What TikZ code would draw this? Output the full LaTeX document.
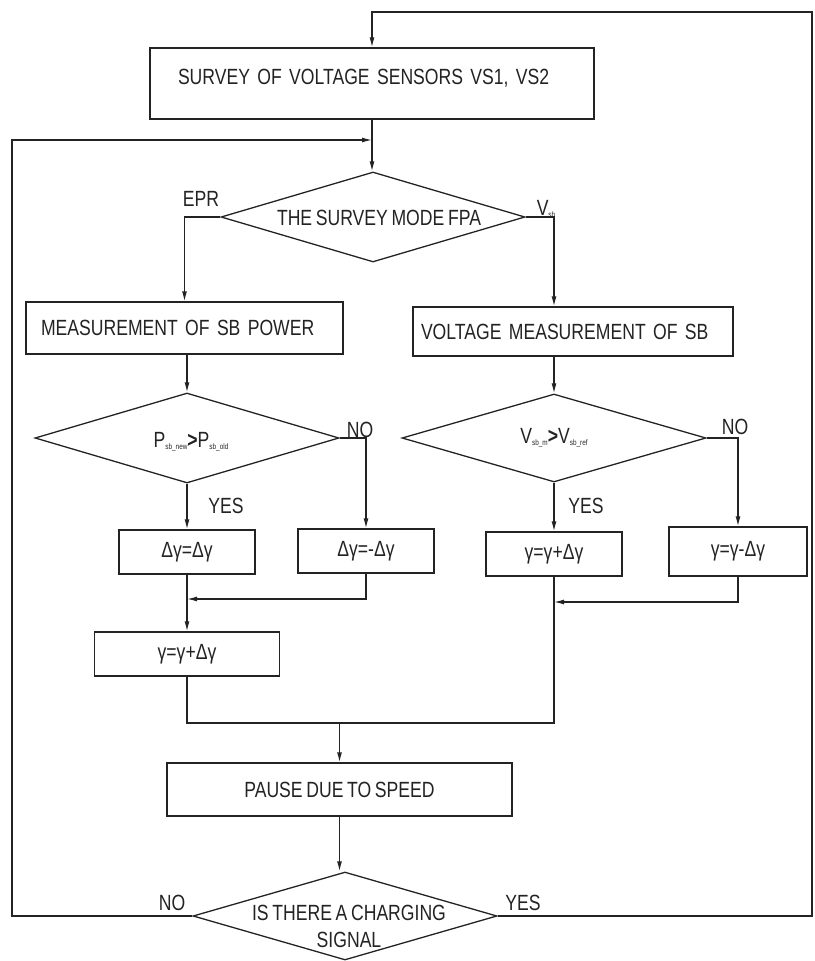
\documentclass[tikz,border=0pt]{standalone}
\usepackage{fontspec}
\setmainfont{Liberation Sans}[FakeStretch=0.8,WordSpace=0.75]
\usetikzlibrary{shapes.geometric,arrows.meta}
\definecolor{ink}{RGB}{35,35,35}
\newcommand{\tsub}[1]{\raisebox{-2.5pt}{\fontsize{8}{8}\selectfont #1}}
\begin{document}
\begin{tikzpicture}[x=1pt,y=-1pt,line width=1.3pt,color=ink,
  every node/.style={font=\fontsize{22}{27}\selectfont},
  box/.style={draw,rectangle,inner sep=0pt,align=center},
  lbox/.style={draw,rectangle,inner ysep=0pt,align=left},
  dia/.style={draw,diamond,inner sep=0pt,minimum width=304pt,minimum height=90pt},
  txt/.style={inner sep=0pt,anchor=base},
  arr/.style={-{Latex[length=10pt,width=5pt]}}]
\useasboundingbox (0,0) rectangle (814,961);

% boxes
\node[lbox,inner xsep=28pt,text width=388pt,minimum height=71pt,text height=15.7pt,text depth=14.7pt] (b1) at (372,83.5) {SURVEY OF VOLTAGE SENSORS VS1, VS2};
\node[lbox,inner xsep=15pt,text width=287pt,minimum height=52pt] (b2) at (184.5,328) {MEASUREMENT OF SB POWER};
\node[lbox,inner xsep=8pt,text width=304pt,minimum height=49pt] (b3) at (573,331.5) {VOLTAGE MEASUREMENT OF SB};
\node[box,minimum width=136pt,minimum height=44pt] (b4) at (187,552) {Δγ=Δγ};
\node[box,minimum width=136pt,minimum height=44pt] (b5) at (366,551) {Δγ=-Δγ};
\node[box,minimum width=185pt,minimum height=44pt] (b6) at (187,654) {γ=γ+Δγ};
\node[box,minimum width=136pt,minimum height=44pt] (b7) at (554,554) {γ=γ+Δγ};
\node[box,minimum width=138pt,minimum height=49pt] (b8) at (738,551.5) {γ=γ-Δγ};
\node[box,minimum width=345pt,minimum height=53pt] (b9) at (339.5,789.5) {PAUSE DUE TO SPEED};

% diamonds
\node[dia] (d1) at (373,217) {};
\node[txt] (d1t) at (379,225) {THE SURVEY MODE FPA};
\node[dia] (d2) at (187,438) {};
\node[txt] (d2t) at (191,447) {P\tsub{sb\_new}\textbf{>}P\tsub{sb\_old}};
\node[dia,minimum height=88pt] (d4) at (554,438) {};
\node[txt] (d4t) at (554,443) {V\tsub{sb\_m}\textbf{>}V\tsub{sb\_ref}};
\node[dia,minimum height=88pt] (d3) at (345,916) {};
\node[txt,align=center] (d3t) at (349,947) {IS THERE A CHARGING\\SIGNAL};

% labels
\node[txt] (lepr) at (201,206) {EPR};
\node[txt] (lvsb) at (546,215) {V\tsub{sb}};
\node[txt] (lno2) at (360,437) {NO};
\node[txt] (lyes2) at (226,513) {YES};
\node[txt] (lno4) at (735,434) {NO};
\node[txt] (lyes4) at (586,513) {YES};
\node[txt] (lno3) at (172,910) {NO};
\node[txt] (lyes3) at (523,910) {YES};

% coordinates
\coordinate (j1) at (372,140);
\coordinate (lc) at (12,140);
\coordinate (rc) at (812,12);
\coordinate (m1) at (187,599);
\coordinate (m2) at (554,602);
\coordinate (m3) at (339.5,723);

% connectors
\draw[arr] (d3.east) -| (rc) -- (b1.north |- rc) -- (b1.north);
\draw[arr] (b1.south) -- (b1.south |- d1.north);
\draw[arr] (d3.west) -| (lc) -- (j1);
\draw[arr] (d1.west) -| (b2.north);
\draw[arr] (d1.east) -| (b3.north -| d4.north);
\draw[arr] (b2.south -| d2.north) -- (d2.north);
\draw[arr] (b3.south -| d4.north) -- (d4.north);
\draw[arr] (d2.south) -- (b4.north);
\draw[arr] (d2.east) -| (b5.north);
\draw[arr] (d4.south) -- (b7.north);
\draw[arr] (d4.east) -| (b8.north);
\draw[arr] (b4.south) -- (b6.north);
\draw[arr] (b5.south) |- (m1);
\draw[arr] (b8.south) |- (m2);
\draw (b6.south) |- (b7.south |- m3) -- (b7.south);
\draw[arr] (m3) -- (b9.north);
\draw[arr] (b9.south) -- (b9.south |- d3.north);
\end{tikzpicture}
\end{document}
